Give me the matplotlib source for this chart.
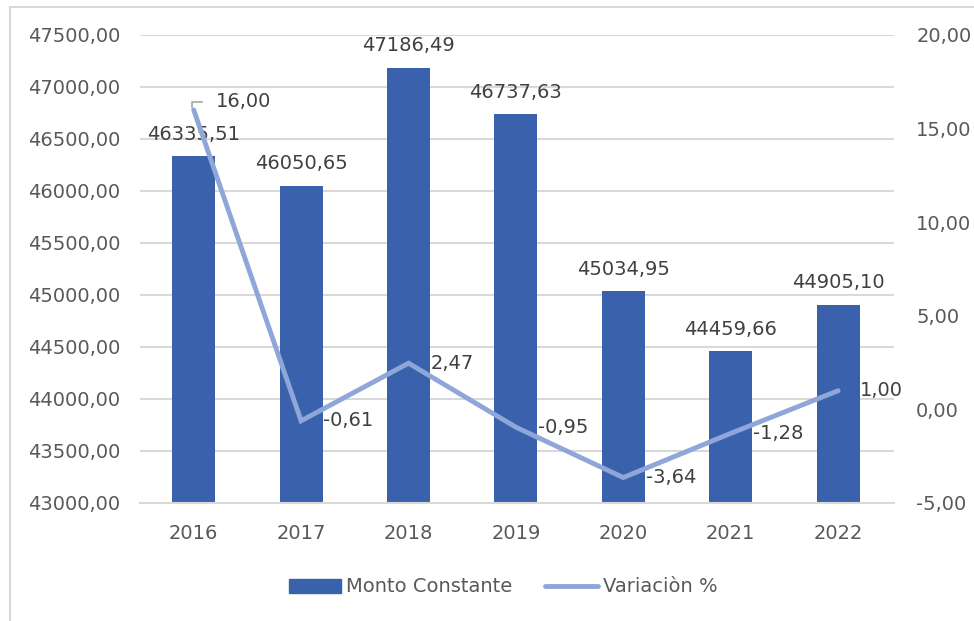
import matplotlib
matplotlib.use("Agg")
import matplotlib.pyplot as plt
from matplotlib.patches import Rectangle, Patch
from matplotlib.lines import Line2D

years = ["2016", "2017", "2018", "2019", "2020", "2021", "2022"]
monto = [46335.51, 46050.65, 47186.49, 46737.63, 45034.95, 44459.66, 44905.10]
variacion = [16.00, -0.61, 2.47, -0.95, -3.64, -1.28, 1.00]
left_ticks = [43000 + 500 * i for i in range(10)]
right_ticks = [-5, 0, 5, 10, 15, 20]

def fmt(v):
    return f"{v:.2f}".replace(".", ",")

plt.rcParams['font.family'] = ['DejaVu Sans']
FS = 14
txt = '#595959'
lbl = '#404040'
bar_c = '#3A62AC'
line_c = '#8FA6D9'

fig = plt.figure(figsize=(9.74, 6.21), dpi=100)
ax = fig.add_axes([140/974, 1-503/621, 754/974, 468/621])

x = list(range(len(years)))
ax.bar(x, monto, width=0.4, color=bar_c, zorder=2)
ax.set_ylim(43000, 47500)
ax.set_yticks(left_ticks)
ax.set_yticklabels([fmt(v) for v in left_ticks], color=txt, fontsize=FS)
ax.set_xlim(-0.5, 6.52)
ax.set_xticks(x)
ax.set_xticklabels(years, color=txt, fontsize=FS)
ax.tick_params(axis='x', length=0, pad=15)
ax.tick_params(axis='y', length=0, pad=14)
ax.grid(axis='y', color='#D9D9D9', linewidth=1.5, zorder=0)
for s in ax.spines.values():
    s.set_visible(False)
ax.spines['bottom'].set_visible(True)
ax.spines['bottom'].set_color('#D9D9D9')
ax.spines['bottom'].set_linewidth(1.5)

for xi, v in zip(x, monto):
    ax.annotate(fmt(v), (xi, v), xytext=(0, 9), textcoords='offset points',
                ha='center', va='bottom', color=lbl, fontsize=FS, zorder=5)

ax2 = ax.twinx()
ax2.plot(x, variacion, color=line_c, linewidth=3.5, solid_capstyle='round',
         solid_joinstyle='miter', zorder=3)
ax2.set_ylim(-5, 20)
ax2.set_yticks(right_ticks)
ax2.set_yticklabels([fmt(v) for v in right_ticks], color=txt, fontsize=FS)
ax2.tick_params(length=0, pad=16)
for s in ax2.spines.values():
    s.set_visible(False)

for i, (xi, v) in enumerate(zip(x, variacion)):
    if i == 0:
        ax2.annotate(fmt(v), (xi, v), xytext=(16, 6), textcoords='offset points',
                     ha='left', va='center', color=lbl, fontsize=FS)
        # leader line from the point to its label (offsets in points)
        base = ax2.transData.transform((xi, v))
        pts = [(base[0] + dx * fig.dpi / 72, base[1] + dy * fig.dpi / 72)
               for dx, dy in [(-1, 2), (-1, 5.5), (6, 5.5)]]
        inv = ax2.transData.inverted()
        dpts = [inv.transform(p) for p in pts]
        ax2.plot([p[0] for p in dpts], [p[1] for p in dpts], color='#A6A6A6',
                 linewidth=1.2, zorder=4)
    else:
        ax2.annotate(fmt(v), (xi, v), xytext=(16, 0), textcoords='offset points',
                     ha='left', va='center', color=lbl, fontsize=FS)

handles = [Patch(color=bar_c, label='Monto Constante'),
           Line2D([0], [0], color=line_c, linewidth=3.5, solid_capstyle='round', label='Variaciòn %')]
leg = fig.legend(handles=handles, loc='center', bbox_to_anchor=(503/974, 1-587/621),
                 ncol=2, frameon=False, fontsize=FS, handlelength=2.7,
                 columnspacing=1.7, handletextpad=0.25)
for t in leg.get_texts():
    t.set_color(txt)

fig.patches.append(Rectangle((10/974, -0.1), 1.2, 1.1 - 7/621, transform=fig.transFigure,
                             fill=False, edgecolor='#D9D9D9', linewidth=1.5))

fig.savefig('out.png', dpi=100)
